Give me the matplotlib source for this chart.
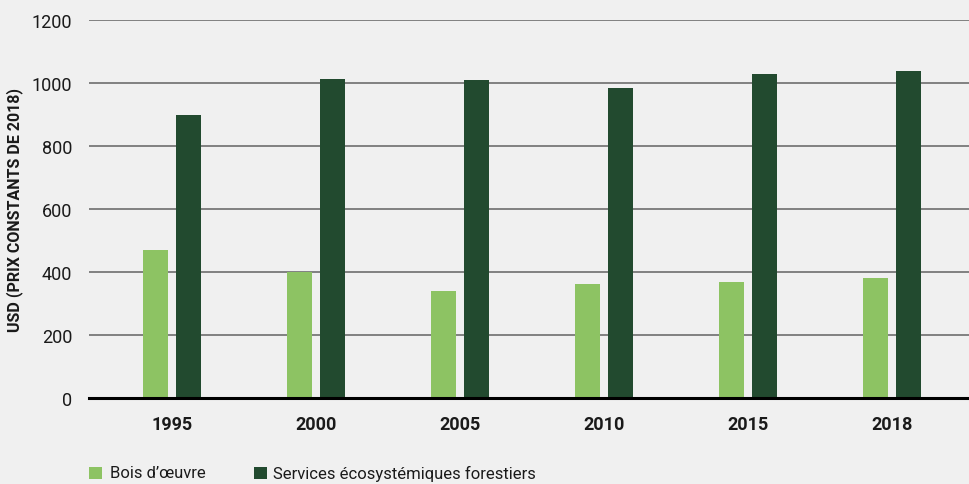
import matplotlib
matplotlib.use("Agg")
import matplotlib.pyplot as plt
import numpy as np
from matplotlib.patches import Rectangle
from matplotlib import font_manager

years = ["1995", "2000", "2005", "2010", "2015", "2018"]
bois = [470, 400, 340, 362, 368, 381]
services = [898, 1013, 1010, 984, 1029, 1038]
series_names = ["Bois d’œuvre", "Services écosystémiques forestiers"]
yticks = [0, 200, 400, 600, 800, 1000, 1200]
ylabel = "USD (PRIX CONSTANTS DE 2018)"

names = {f.name for f in font_manager.fontManager.ttflist}
fam = ["Liberation Sans Narrow", "DejaVu Sans"] if "Liberation Sans Narrow" in names else ["Roboto", "DejaVu Sans"]
plt.rcParams['font.family'] = fam

light = "#8dc363"
dark = "#224a2f"
bg = "#f0f0f0"

fig = plt.figure(figsize=(9.69, 4.85), dpi=100, facecolor=bg)
ax = fig.add_axes([89/969, 1-399/485, 1-89/969, 378/485])
ax.set_facecolor(bg)

x = np.arange(len(years))
w = 0.175
ax.bar(x - 0.113, bois, width=w, color=light, zorder=3)
ax.bar(x + 0.113, services, width=w, color=dark, zorder=3)

ax.set_xlim(-0.576, 5.535)
ax.set_ylim(0, 1200)
ax.set_yticks(yticks)
ax.set_yticklabels([str(v) for v in yticks], fontsize=13, color="#1a1a1a")
ax.set_xticks(x)
ax.set_xticklabels(years, fontsize=13, fontweight="bold", color="#1a1a1a")
ax.tick_params(axis="y", length=0, pad=12)
ax.tick_params(axis="x", length=0, pad=12)
ax.grid(axis="y", color="#6e6e6e", linewidth=1.2, zorder=0)
for s in ["top", "right", "left"]:
    ax.spines[s].set_visible(False)
ax.spines["bottom"].set_color("black")
ax.spines["bottom"].set_linewidth(2.2)
ax.spines["bottom"].set_zorder(4)

fig.text(15/969, 1-210/485, ylabel, rotation=90, fontsize=11.5, fontweight="bold",
         ha="center", va="center", color="#1a1a1a")

# legend
fig.patches.append(Rectangle((89/969, 1-480/485), 13/969, 12/485, transform=fig.transFigure,
                             facecolor=light, edgecolor="none"))
fig.text(110/969, 1-474/485, series_names[0], fontsize=12, va="center", ha="left", color="#1a1a1a")
fig.patches.append(Rectangle((254/969, 1-480/485), 13/969, 12/485, transform=fig.transFigure,
                             facecolor=dark, edgecolor="none"))
fig.text(273/969, 1-474/485, series_names[1], fontsize=12, va="center", ha="left", color="#1a1a1a")

fig.savefig("out.png", dpi=100, facecolor=bg)
